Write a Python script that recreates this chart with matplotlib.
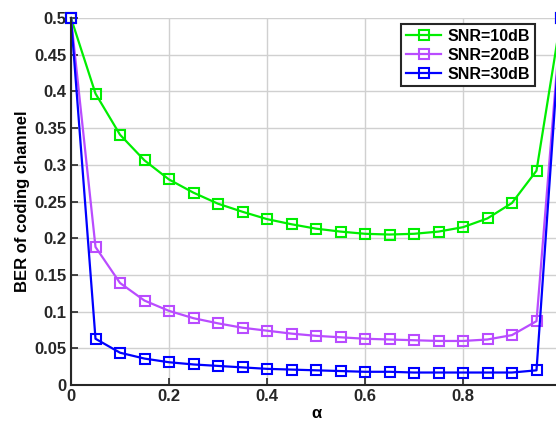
import numpy as np
import matplotlib
matplotlib.use("Agg")
import matplotlib.pyplot as plt

# alpha values
alpha = np.round(np.arange(0, 1.0001, 0.05), 2)

# BER
ber_10 = [0.5, 0.397, 0.341, 0.306, 0.280, 0.262, 0.247, 0.236, 0.226, 0.219, 0.213,
          0.209, 0.206, 0.205, 0.206, 0.209, 0.215, 0.227, 0.248, 0.292, 0.5]
ber_20 = [0.5, 0.188, 0.139, 0.115, 0.101, 0.091, 0.084, 0.078, 0.074, 0.070, 0.067,
          0.065, 0.063, 0.062, 0.061, 0.060, 0.060, 0.062, 0.068, 0.087, 0.5]
ber_30 = [0.5, 0.063, 0.044, 0.036, 0.031, 0.028, 0.026, 0.024, 0.022, 0.021, 0.020,
          0.019, 0.018, 0.018, 0.017, 0.017, 0.017, 0.017, 0.017, 0.020, 0.5]
labels = ['SNR=10dB', 'SNR=20dB', 'SNR=30dB']

plt.rcParams['font.family'] = ['Liberation Sans', 'DejaVu Sans']
plt.rcParams['font.weight'] = 'bold'

fig = plt.figure(figsize=(5.56, 4.26), dpi=100)
ax = fig.add_axes([71/556, 41/426, 490/556, 367/426])

cols = ['#00ee00', '#b94cff', '#0000ff']
for y, c, lab in zip([ber_10, ber_20, ber_30], cols, labels):
    ax.plot(alpha, y, '-s', color=c, lw=1.6, ms=7.5, mfc='none', mew=1.5, label=lab,
            clip_on=False)

ax.set_xlim(0, 1)
ax.set_ylim(0, 0.5)
ax.set_xticks([0, 0.2, 0.4, 0.6, 0.8])
ax.set_xticklabels(['0', '0.2', '0.4', '0.6', '0.8'])
ax.set_yticks(np.arange(0, 0.501, 0.05))
ax.set_yticklabels(['0', '0.05', '0.1', '0.15', '0.2', '0.25', '0.3', '0.35', '0.4', '0.45', '0.5'])
ax.grid(True, color='#d0d0d0', lw=1)
ax.set_axisbelow(True)
for s in ['top', 'right']:
    ax.spines[s].set_visible(False)
for s in ['left', 'bottom']:
    ax.spines[s].set_linewidth(1.5)
    ax.spines[s].set_color('#262626')
ax.tick_params(direction='in', length=5, width=1.2, labelsize=12, colors='#262626', pad=3)
ax.set_xlabel('α', fontsize=12, fontweight='bold', labelpad=1)
ax.set_ylabel('BER of coding channel', fontsize=12, fontweight='bold', labelpad=3)

leg = ax.legend(loc='upper right', bbox_to_anchor=(0.947, 0.984), fontsize=11.5,
                fancybox=False, framealpha=1, handlelength=2.2, borderpad=0.3,
                labelspacing=0.25, handletextpad=0.4, borderaxespad=0)
leg.get_frame().set_edgecolor('#262626')
leg.get_frame().set_linewidth(1.5)

fig.savefig('out.png', dpi=100)
